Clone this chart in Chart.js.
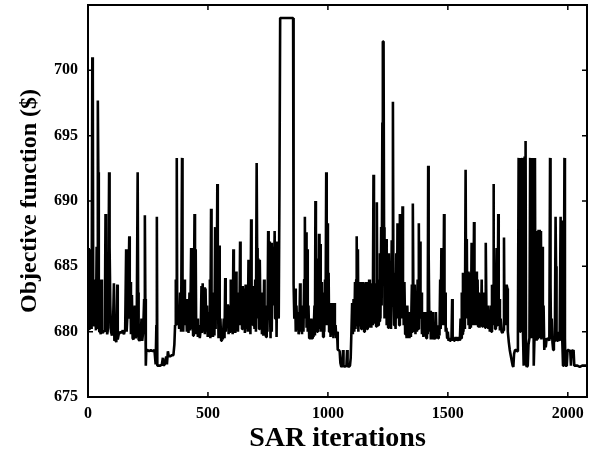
<!DOCTYPE html>
<html>
<head>
<meta charset="utf-8">
<script src="https://cdn.jsdelivr.net/npm/chart.js@4.4.0/dist/chart.umd.min.js"></script>
<style>
html,body{margin:0;padding:0;background:#fff;}
#wrap{width:600px;height:451px;}
</style>
</head>
<body>
<div id="wrap"><canvas id="c" width="600" height="451"></canvas></div>
<script>
// SAR iteration index (x) and objective function value in $ (y)
const iteration = [
0,3,5,8,10,13,15,18,20,22,
25,27,30,33,36,38,41,43,45,47,
50,53,56,58,62,66,70,73,75,77,
80,84,88,90,93,96,100,104,108,110,
114,118,122,124,128,132,136,140,145,150,
155,159,161,165,168,172,174,177,179,183,
186,190,195,199,203,207,209,211,215,219,
223,226,230,234,237,239,241,243,248,255,
262,270,277,282,285,287,289,295,302,308,
312,314,320,326,329,333,336,342,350,356,
360,363,366,368,370,372,376,380,384,388,
392,394,397,401,404,408,
412,416,419,423,426,430,432,436,438,441,
444,446,449,451,455,458,462,466,470,473,
475,478,481,484,487,490,493,496,499,502,
505,508,510,513,515,518,521,524,527,530,
532,534,536,539,541,544,547,549,552,555,
558,562,566,569,572,574,577,580,583,586,
589,592,595,597,600,603,606,608,611,614,
617,619,622,625,628,631,634,636,639,642,
645,648,651,654,657,660,663,666,669,671,
674,677,680,682,685,688,691,694,697,700,
703,705,707,710,713,716,719,722,725,728,
731,734,736,739,742,745,748,751,753,756,
758,761,764,766,769,771,774,775,778,780,
783,786,789,792,795,798,801,855,
857,860,863,866,869,872,875,878,881,884,
886,889,892,895,898,901,904,906,909,911,
914,916,919,922,925,928,931,934,937,940,
944,946,948,950,953,955,958,960,963,965,
968,970,973,975,978,980,983,985,988,990,
993,995,998,1000,1003,1005,1008,1011,1014,1017,
1020,1023,1026,1029,1032,1035,1038,1041,1045,1049,
1052,1056,1060,1063,1065,1070,1074,1077,1080,1082,
1087,1092,1095,1098,1101,1104,1107,1110,1113,1115,
1118,1120,1122,1125,1127,1130,1133,1136,1139,1142,
1145,1148,1151,1154,1157,1160,1163,1166,1169,1172,
1175,1178,1181,1184,1187,1190,1192,1195,1198,1201,
1204,1206,1209,1212,1214,1217,1219,1222,1224,1227,
1229,1232,1234,1236,1238,1240,1243,1245,
1248,1251,1254,1257,1260,1263,1266,1268,1271,1273,
1276,1279,1282,1285,1288,1290,1292,1295,1297,1300,
1302,1305,1308,1311,1313,1316,1319,1322,1325,1328,
1331,1334,1337,1340,1343,1346,1350,1352,1354,1356,
1359,1362,1365,1368,1371,1374,1376,1379,1381,1384,
1386,1389,1392,1395,1398,1401,1404,1407,1410,1413,
1416,1418,1420,1423,
1426,1429,1432,1435,1438,1441,1444,1447,1450,1453,
1456,1459,1462,1465,1468,1470,1473,1475,1478,1481,
1484,1486,1489,1491,1494,1497,1500,1503,1506,1509,
1512,1515,1518,1520,1523,1526,1529,1532,1535,1538,
1541,1544,1547,1550,1553,1555,1558,1560,1563,1565,
1568,1571,1574,1576,1579,1581,1584,1586,1589,1591,
1594,1596,1599,1601,1604,1606,1609,1611,1614,1616,
1619,1621,1624,1626,1629,1632,1635,1638,1641,1643,
1646,1649,1652,1655,1658,
1661,1663,1666,1669,1672,1675,1678,1681,1684,1686,
1689,1690,1692,1695,1697,1700,1703,1705,1708,1710,
1712,1715,1717,1720,1724,1728,1731,1734,1736,1739,
1742,1745,1748,1750,1754,1758,1762,1766,1770,1773,
1776,1780,1785,1789,1792,
1795,1797,1799,1801,1803,1805,1807,1809,1811,1813,
1816,1818,1820,1822,1824,1826,1829,1833,1836,1840,
1843,1845,1847,1849,1851,1853,1855,1857,1859,1861,
1863,1865,1868,1870,1873,1875,1878,1880,1883,1885,
1888,1890,1893,1896,1899,1902,1905,1908,1912,1915,
1919,1923,1926,1928,1930,1933,1936,1939,1942,1946,
1949,1951,1953,1956,1959,1962,1966,1970,1972,1975,
1977,1980,1983,1986,1988,1990,1993,1996,1999,2003,
2007,2010,2013,2016,2020,2024,2027,2031,2040,2050,
2060,2070,2080
];
const objective = [
680.5,686.4,680.2,686.3,680.8,683,680.2,701,699.5,680.5,
684,680.4,682,680.1,686.5,680.3,697.7,692.2,683,680,
680.3,679.8,684,680,679.9,680.1,680,689,686,680.5,
679.8,680.3,692.2,686.5,682,680,679.7,680.2,683.7,679.3,
679.4,679.2,683.6,679.4,679.8,679.9,680,679.9,680.1,679.8,
680.2,686.3,680,681.5,682.5,687.3,681,683.8,679.8,682.8,
679.5,679.4,682,679.5,680,692.2,683,679.4,679.3,679.5,
681,679.3,680,682.5,688.9,682.5,677.4,678.6,678.6,678.5,
678.6,678.5,678.6,677.5,680.5,688.8,677.4,677.4,677.4,677.5,
678.0,677.4,677.5,678.1,677.5,678.5,678.2,678.1,678.2,678.2,
679,680.5,684,682,693.3,680.5,682,680.2,683,680,
693.3,683,680,684,680.5,682.5,
680,682.5,679.9,683,680.1,686.4,680.2,684,679.7,682,
689,680,686.3,679.8,681,679.6,680.5,679.5,680.2,683.5,
679.9,683.7,680,683.4,679.8,683.3,680.1,682,679.6,681.5,
679.7,684,679.5,689.4,680,683,679.6,682,679.7,688,
680.2,687.9,681,691.3,684,679.5,686.6,679.6,681,679.3,
680,679.4,681,679.5,684.1,680,682,680.5,682.1,679.8,
682,680,684,680.1,682,679.8,686.3,680.2,683,679.9,
684.6,680.4,682.5,680,683,680.5,686.9,681,683.5,680.2,
683.5,680.5,683.3,679.9,683.6,680.2,682.5,680,685.5,680.5,
683,679.8,688.6,681,683.3,680.5,683.5,680.2,684,680,
692.9,686.4,681,685.6,680.2,685.5,681,683,679.8,680.3,
679.7,684,679.8,680.4,679.6,682,680,687.7,681,686.9,
682,679.5,686.8,680,686.5,682,685,683,687.7,681,
686.9,679.6,686.9,683,681,690.7,704,704,
683.6,681,683.3,680,682,680.2,681.5,679.8,680.5,683.7,
680,681,679.8,682,680,684,688.8,681,687.6,680.3,
686.3,680,682,679.5,680.2,679.4,681,679.5,680,679.6,
682,679.7,690,682,685.6,680,684,680.2,687.5,681,
686.7,680,683.8,680.5,682,679.6,683,680,684,680.5,
692.2,684,688.3,680.5,684.5,680,682.2,679.6,682.2,679.7,
682.2,679.5,682.2,679.8,680.5,679.5,680,678.6,678.6,678.5,
677.6,677.3,677.4,678.6,677.4,677.3,677.4,677.3,678.6,677.4,
677.3,677.4,678,680,682.2,679.8,682.5,680,683.8,680.2,
684,687.3,680.5,686.3,680,683.8,680.4,683.8,680.2,683.8,
680.5,683.8,680,683.7,680.5,683.8,680.2,683.8,680.5,684,
680.3,683.7,680.3,683.5,680.5,692,683.7,680.6,683.7,680.4,
689.9,682,680.5,684,680.8,686,681,688,682,696,
702.2,702.2,688,681,687.1,681,687.1,680.5,
684,680.3,686,680.5,684,680.2,687,682,697.6,684,
680.5,684.5,680.2,686,681,688.3,681,684,680.5,689,
682,684,681,689.6,683.8,680.5,683.8,679.8,681,679.5,
682,679.6,681.5,679.5,680.5,679.6,683.6,680,689.8,683.7,
680.5,683.6,679.8,683,680,684,680.2,688.3,682,686.9,
681,683,679.8,681.4,679.6,681.5,679.7,680.5,679.5,681.5,
679.8,692.7,686,680,
681.6,679.4,680.5,679.5,681.5,679.4,680,679.5,681.5,679.6,
680.2,679.5,680.5,679.7,684,680.2,686.4,681,683,680.5,
689,681,683,680,680.3,679.5,680,679.3,679.5,679.3,
679.5,679.3,682.5,679.3,679.6,679.3,679.5,679.3,679.6,679.3,
679.5,679.3,679.6,679.3,681,679.5,683,679.8,684.5,680,
682,680.2,692.4,684,687.1,681,684.6,680.5,684.5,680.2,
683.5,680.3,686.8,681,684,680.5,688.4,682,684.6,680.5,
684.6,680.6,684,680.4,683,680.3,682.5,680.4,684,680.4,
682.2,680.4,683,680.3,686.8,
681,680.5,682,680.2,681,680,682,680,683.6,680.5,
683.6,691.3,681,684,680.2,683,686.4,680.5,682,689,
681,682.5,680.1,681,680,679.9,680.1,687.2,681,683.6,
680.5,683.6,683.3,680,679.2,678.6,678.2,677.8,677.4,677.3,
678.3,678.6,678.6,678.5,680,
693.3,683,687,680,693.3,681,691,683,693.3,680,
677.4,684,693.4,681,694.6,677.5,677.3,677.4,679,679.5,
693.3,680,693.3,679.5,693.3,680,693.3,679.4,677.4,679.5,
693.3,679.5,683.5,679.3,687.7,679.4,687.8,679.6,687.8,679.6,
687.7,679.4,686.5,679.5,682,678.6,679.5,678.8,679.5,679.4,
679.5,679.3,693.3,683.6,679.5,681,679.2,678.6,679.2,679.3,
688.8,685,679.5,679.3,680,679.4,679.3,688.8,679.5,688.5,
679.3,677.4,679.5,693.3,679.5,677.4,677.4,677.5,678.6,678.6,
678.5,678.6,677.4,678.6,678.5,678.6,677.4,677.4,677.4,677.3,
677.4,677.4,677.4
];
const xTicks = [0, 500, 1000, 1500, 2000];
const yTicks = [675, 680, 685, 690, 695, 700];
const xRange = [0, 2080];
const yRange = [675, 705];

const n = Math.min(iteration.length, objective.length);
if (iteration.length !== objective.length) console.log('length mismatch', iteration.length, objective.length);
const points = [];
for (let i = 0; i < n; i++) points.push({x: iteration[i], y: objective[i]});

const serif = '"Liberation Serif", "Times New Roman", "DejaVu Serif", serif';

const boxPlugin = {
  id: 'box',
  afterDraw(chart) {
    const {ctx, chartArea: a, scales: {x, y}} = chart;
    ctx.save();
    ctx.strokeStyle = '#000';
    ctx.lineWidth = 2;
    ctx.strokeRect(a.left, a.top, a.right - a.left, a.bottom - a.top);
    ctx.lineWidth = 1.5;
    ctx.beginPath();
    x.ticks.forEach(t => {
      const px = x.getPixelForValue(t.value);
      ctx.moveTo(px, a.bottom); ctx.lineTo(px, a.bottom - 5);
      ctx.moveTo(px, a.top); ctx.lineTo(px, a.top + 5);
    });
    y.ticks.forEach(t => {
      const py = y.getPixelForValue(t.value);
      ctx.moveTo(a.left, py); ctx.lineTo(a.left + 5, py);
      ctx.moveTo(a.right, py); ctx.lineTo(a.right - 5, py);
    });
    ctx.stroke();
    ctx.restore();
  }
};

new Chart(document.getElementById('c'), {
  type: 'line',
  data: {
    datasets: [{
      data: points,
      borderColor: '#000',
      borderWidth: 2.6,
      borderJoinStyle: 'bevel',
      pointRadius: 0,
      tension: 0,
      fill: false
    }]
  },
  options: {
    responsive: false,
    animation: false,
    layout: {padding: {left: 0, right: 13, top: 5, bottom: 0}},
    plugins: {legend: {display: false}, tooltip: {enabled: false}},
    scales: {
      x: {
        type: 'linear',
        min: xRange[0], max: xRange[1],
        grid: {display: false, drawTicks: false},
        border: {display: false},
        afterBuildTicks(s) { s.ticks = xTicks.map(v => ({value: v})); },
        ticks: {
          padding: 7, color: '#000', maxRotation: 0, autoSkip: false,
          callback: v => String(v),
          font: {family: serif, size: 16, weight: 'bold'}
        },
        title: {
          display: true, text: 'SAR iterations', color: '#000',
          font: {family: serif, size: 28, weight: 'bold', lineHeight: 0.9},
          padding: {top: 0, bottom: 0}
        },
        afterFit(s) { s.height = 54; s.paddingLeft = 0; s.paddingRight = 0; }
      },
      y: {
        type: 'linear',
        min: yRange[0], max: yRange[1],
        grid: {display: false, drawTicks: false},
        border: {display: false},
        afterBuildTicks(s) { s.ticks = yTicks.map(v => ({value: v})); },
        ticks: {
          padding: 10, color: '#000', autoSkip: false,
          callback: v => String(v),
          font: {family: serif, size: 16, weight: 'bold'}
        },
        title: {
          display: true, text: 'Objective function ($)', color: '#000',
          font: {family: serif, size: 24, weight: 'bold'},
          padding: {top: 15, bottom: 0}
        },
        afterFit(s) { s.width = 88; s.paddingTop = 0; s.paddingBottom = 0; }
      }
    }
  },
  plugins: [boxPlugin]
});
</script>
</body>
</html>
